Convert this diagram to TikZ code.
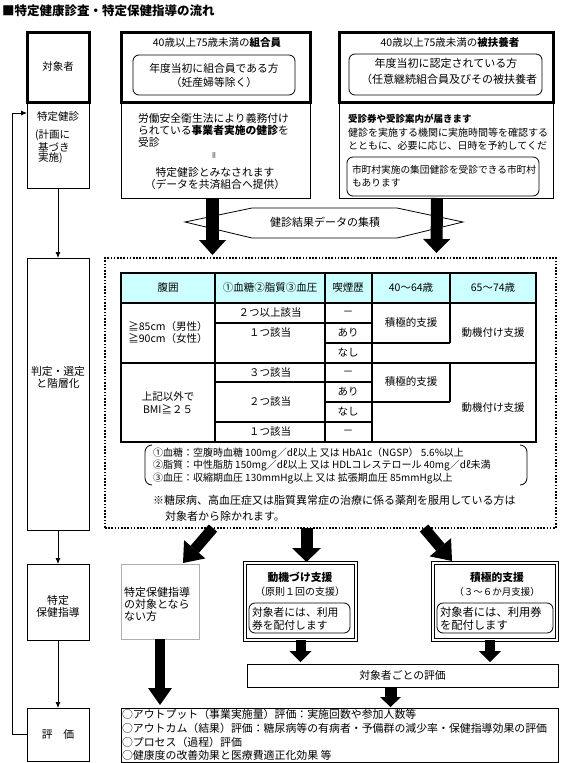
\documentclass[tikz,border=0pt]{standalone}
\usepackage{fontspec}
\setmainfont{Noto Sans CJK JP}
\usetikzlibrary{arrows.meta,calc}
\definecolor{hdr}{RGB}{204,255,255}
\definecolor{gbox}{RGB}{175,175,175}
\newcommand\myfs[2]{\fontsize{#1}{#2}\selectfont}
\begin{document}
\begin{tikzpicture}[x=1pt,y=-1pt,
  txt/.style={inner sep=0pt, outer sep=0pt, font=\myfs{10.5}{12}},
  box/.style={draw, line width=0.8pt, inner sep=0pt, outer sep=0pt, anchor=north west, rectangle},
  thickbox/.style={box, line width=3pt},
  rbox/.style={box, rounded corners=6pt},
  dbox/.style={box, double, line width=0.8pt, double distance=1.6pt},
  dotbox/.style={box, line width=1.8pt, dash pattern=on 1.6pt off 1.6pt},
  tbl/.style={line width=1.1pt},
  smallarr/.style={line width=0.8pt, -{Latex[length=6pt,width=5pt]}},
  bigarr/.style n args={3}{line width=#1, -{Triangle[width=#2,length=#3,line width=0pt]}},
  ]
\useasboundingbox (0,0) rectangle (567,763);

% title
\node[txt, anchor=west, font=\bfseries\myfs{12.5}{14}] (title) at (2,11) {■特定健康診査・特定保健指導の流れ};

% ---------------- left column
\node[box, minimum width=62, minimum height=86] (L2) at (27,102) {};
\node[thickbox, minimum width=62, minimum height=70, font=\myfs{10.5}{12}] (L1) at (27,32) {対象者};
\node[txt] (L2a) at (58,117) {特定健診};
\node[txt, anchor=west] (L2b) at (35,135) {(計画に};
\node[txt, anchor=west] (L2c) at (38,147) {基づき};
\node[txt, anchor=west] (L2d) at (38,158) {実施)};
\node[box, minimum width=62, minimum height=272] (L3) at (27,258) {};
\node[txt, align=center, font=\myfs{10.8}{12}] (L3t) at (58,377) {判定・選定\\と階層化};
\node[box, minimum width=62, minimum height=76] (L4) at (27,564) {};
\node[txt, align=center, font=\myfs{10.8}{12}] (L4t) at (58,606) {特定\\保健指導};
\node[box, minimum width=62, minimum height=53, font=\myfs{10.8}{12}] (L5) at (27,708) {評　価};

\draw[smallarr] (L2.south) -- (L3.north);
\draw[smallarr] (L3.south) -- (L4.north);
\draw[smallarr] (L4.south) -- (L5.north);
\coordinate (fb) at (12,113);
\draw[smallarr] (L5.west) -| (fb) -- (L2.west |- fb);

% ---------------- top boxes
\node[box, minimum width=189, minimum height=96] (T1b) at (121,102) {};
\node[thickbox, minimum width=189, minimum height=70] (T1) at (121,32) {};
\node[txt] (T1t) at (217,43) {40歳以上75歳未満の\textbf{組合員}};
\node[rbox, minimum width=162, minimum height=40, align=center, font=\myfs{10.8}{14}] (T1r) at (133,55) {年度当初に組合員である方\\（妊産婦等除く）};
\node[txt, anchor=west, font=\myfs{10.8}{12}] (T1b1) at (138,118) {労働安全衛生法により義務付け};
\node[txt, anchor=west, font=\myfs{10.8}{12}] (T1b2) at (138,130) {られている\textbf{事業者実施の健診}を};
\node[txt, anchor=west, font=\myfs{10.8}{12}] (T1b3) at (138,142) {受診};
\node[txt, rotate=90, font=\myfs{8}{9}] (T1b4) at (215,155) {＝};
\node[txt, font=\myfs{10.8}{12}] (T1b5) at (215,172) {特定健診とみなされます};
\node[txt, font=\myfs{10.8}{12}] (T1b6) at (215,184) {（データを共済組合へ提供）};

\node[box, minimum width=214, minimum height=96] (T2b) at (339,102) {};
\node[thickbox, minimum width=214, minimum height=70] (T2) at (339,32) {};
\node[txt] (T2t) at (450,43) {40歳以上75歳未満の\textbf{被扶養者}};
\node[rbox, minimum width=193, minimum height=41] (T2r) at (349,54) {};
\node[txt, font=\myfs{11}{12}] (T2r1) at (446,63) {年度当初に認定されている方};
\node[txt, anchor=west, font=\myfs{11}{12}] (T2r2) at (361,79) {（任意継続組合員及びその被扶養者};
\node[txt, anchor=west, font=\bfseries\myfs{9.5}{11}] (T2b1) at (348,119) {受診券や受診案内が届きます};
\node[txt, anchor=west, font=\myfs{10}{12}] (T2b2) at (348,133) {健診を実施する機関に実施時間等を確認する};
\node[txt, anchor=west, font=\myfs{10}{12}] (T2b3) at (348,146) {とともに、必要に応じ、日時を予約してくだ};
\node[rbox, minimum width=192, minimum height=39] (T2s) at (347,157) {};
\node[txt, anchor=west, font=\myfs{9.7}{12}] (T2s1) at (352,170) {市町村実施の集団健診を受診できる市町村};
\node[txt, anchor=west, font=\myfs{9.7}{12}] (T2s2) at (352,183) {もあります};

% ---------------- data collection
\draw[line width=0.8pt, fill=white] (185,222) -- (252,208) -- (397,208) -- (463,222) -- (397,238) -- (252,238) -- cycle;
\node[txt, font=\myfs{11}{12}] (hex) at (325,222) {健診結果データの集積};

\node[dotbox, minimum width=451, minimum height=270] (DB) at (105,258) {};

\draw[bigarr={13pt}{27pt}{15pt}] ($(T1b.south)+(-3,0)$) -- ($(DB.north)+(-118,-3)$);
\draw[bigarr={12pt}{27pt}{14pt}] ($(T2b.south)+(-9,0)$) -- ($(DB.north)+(106,-5)$);

% ---------------- table
\fill[hdr] (121,273) rectangle (536,303);
\draw[tbl] (121,273) rectangle (536,442);
\draw[tbl] (121,303) -- (536,303);
\draw[tbl] (121,363) -- (536,363);
\draw[tbl] (215,273) -- (215,442);
\draw[tbl] (325,273) -- (325,442);
\draw[tbl] (372,273) -- (372,442);
\draw[tbl] (450,273) -- (450,343);
\draw[tbl] (450,363) -- (450,402);
\draw[tbl] (215,323) -- (372,323);
\draw[tbl] (325,343) -- (450,343);
\draw[tbl] (215,382) -- (372,382);
\draw[tbl] (325,402) -- (450,402);
\draw[tbl] (215,422) -- (372,422);

\node[txt] (h1) at (168,288) {腹囲};
\node[txt] (h2) at (270,288) {①血糖②脂質③血圧};
\node[txt] (h3) at (348,288) {喫煙歴};
\node[txt] (h4) at (411,288) {40～64歳};
\node[txt] (h5) at (493,288) {65～74歳};

\node[txt] (a1) at (168,327) {≧85cm（男性）};
\node[txt] (a2) at (168,339) {≧90cm（女性）};
\node[txt] (a3) at (270,313) {２つ以上該当};
\node[txt] (a4) at (270,333) {１つ該当};
\node[txt] (a5) at (348,313) {－};
\node[txt] (a6) at (348,333) {あり};
\node[txt] (a7) at (348,353) {なし};
\node[txt] (a8) at (411,323) {積極的支援};
\node[txt] (a9) at (493,333) {動機付け支援};

\node[txt] (b1) at (168,397) {上記以外で};
\node[txt] (b2) at (168,409) {BMI≧２５};
\node[txt] (b3) at (270,373) {３つ該当};
\node[txt] (b4) at (270,402) {２つ該当};
\node[txt] (b5) at (270,432) {１つ該当};
\node[txt] (b6) at (348,373) {－};
\node[txt] (b7) at (348,392) {あり};
\node[txt] (b8) at (348,412) {なし};
\node[txt] (b9) at (348,432) {－};
\node[txt] (b10) at (411,382) {積極的支援};
\node[txt] (b11) at (493,408) {動機付け支援};

% notes
\draw[line width=0.8pt] (152,445) to[out=180,in=90] (145,452) -- (145,478) to[out=-90,in=180] (152,485);
\draw[line width=0.8pt] (520,445) to[out=0,in=90] (527,452) -- (527,478) to[out=-90,in=0] (520,485);
\node[txt, anchor=west, font=\myfs{10}{12}] (n1) at (153,453) {①血糖：空腹時血糖 100mg／dℓ以上 又は HbA1c（NGSP） 5.6\%以上};
\node[txt, anchor=west, font=\myfs{10}{12}] (n2) at (153,466) {②脂質：中性脂肪 150mg／dℓ以上 又は HDLコレステロール 40mg／dℓ未満};
\node[txt, anchor=west, font=\myfs{10}{12}] (n3) at (153,479) {③血圧：収縮期血圧 130mmHg以上 又は 拡張期血圧 85mmHg以上};
\node[txt, anchor=west, font=\myfs{11}{12}] (n4) at (153,500) {※糖尿病、高血圧症又は脂質異常症の治療に係る薬剤を服用している方は};
\node[txt, anchor=west, font=\myfs{11}{12}] (n5) at (165,516) {対象者から除かれます。};

% ---------------- bottom
\node[box, draw=gbox, minimum width=78, minimum height=75] (N1) at (121,564) {};
\node[txt, anchor=west, font=\myfs{11}{12}] (N1a) at (124,592) {特定保健指導};
\node[txt, anchor=west, font=\myfs{11}{12}] (N1b) at (124,604) {の対象となら};
\node[txt, anchor=west, font=\myfs{11}{12}] (N1c) at (124,616) {ない方};

\node[dbox, minimum width=111, minimum height=77] (N2) at (245,563) {};
\node[txt, font=\bfseries\myfs{10.8}{12}] (N2a) at (300,577) {動機づけ支援};
\node[txt, font=\myfs{10}{12}] (N2b) at (300,592) {（原則１回の支援）};
\node[rbox, minimum width=101, minimum height=30] (N2r) at (249,603) {};
\node[txt, anchor=west, font=\myfs{10.8}{12}] (N2c) at (252,612) {対象者には、利用};
\node[txt, anchor=west, font=\myfs{10.8}{12}] (N2d) at (252,625) {券を配付します};

\node[dbox, minimum width=124, minimum height=77] (N3) at (433,563) {};
\node[txt, font=\bfseries\myfs{10.8}{12}] (N3a) at (497,577) {積極的支援};
\node[txt, font=\myfs{9.5}{12}] (N3b) at (497,592) {（３～６か月支援）};
\node[rbox, minimum width=116, minimum height=30] (N3r) at (437,603) {};
\node[txt, anchor=west, font=\myfs{11.3}{12}] (N3c) at (440,612) {対象者には、利用券};
\node[txt, anchor=west, font=\myfs{11.3}{12}] (N3d) at (440,625) {を配付します};

\node[box, minimum width=311, minimum height=23, font=\myfs{10.8}{12}] (N4) at (247,664) {対象者ごとの評価};

\node[box, minimum width=437, minimum height=54] (N5) at (121,708) {};
\node[txt, anchor=west, font=\myfs{10.9}{12}] (N5a) at (122,714) {○アウトプット（事業実施量）評価：実施回数や参加人数等};
\node[txt, anchor=west, font=\myfs{10.9}{12}] (N5b) at (122,728) {○アウトカム（結果）評価：糖尿病等の有病者・予備群の減少率・保健指導効果の評価};
\node[txt, anchor=west, font=\myfs{10.9}{12}] (N5c) at (122,742) {○プロセス（過程）評価};
\node[txt, anchor=west, font=\myfs{10.9}{12}] (N5d) at (122,755) {○健康度の改善効果と医療費適正化効果 等};

% big arrows bottom
\draw[bigarr={11pt}{28pt}{18pt}] ($(DB.south west)+(108,0)$) -- ($(N1.north east)+(-16,-1)$);
\draw[bigarr={12pt}{29pt}{14pt}] ($(DB.south)+(-24,0)$) -- ($(N2.north)+(6,-1)$);
\draw[bigarr={11pt}{28pt}{18pt}] ($(DB.south west)+(319,0)$) -- ($(N3.north west)+(19,-2)$);
\draw[bigarr={10pt}{24pt}{17pt}] (N1.south) -- ($(N1.south |- N5.north)+(0,-3)$);
\draw[bigarr={10pt}{22pt}{11pt}] (N2.south) -- ($(N2.south |- N4.north)+(0,-2)$);
\draw[bigarr={10pt}{22pt}{11pt}] ($(N3.south)+(-5,0)$) -- ($(N3.south |- N4.north)+(-5,-2)$);
\draw[bigarr={12pt}{21pt}{10pt}] ($(N4.south)+(-12,0)$) -- ($(N4.south |- N5.north)+(-12,-1)$);
\end{tikzpicture}
\end{document}
